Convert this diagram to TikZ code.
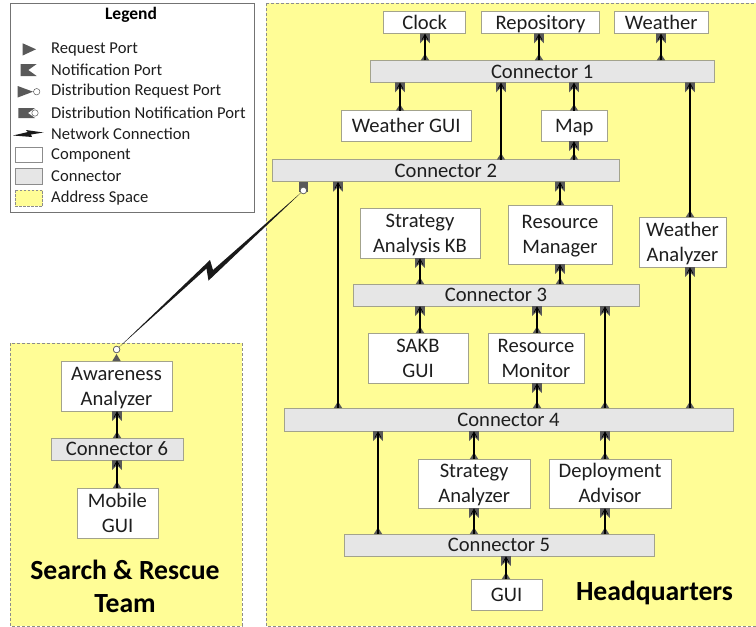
\documentclass[tikz,border=0pt]{standalone}
\usepackage{fontspec}
\setmainfont{Carlito}
\usetikzlibrary{arrows.meta,calc}
\definecolor{spaceyellow}{HTML}{FFFD96}
\definecolor{connfill}{HTML}{E6E6E6}
\definecolor{edgegray}{HTML}{A3A38C}
\definecolor{portgray}{HTML}{595959}
\definecolor{inktext}{HTML}{1E1E1E}
\tikzset{
  basebox/.style={draw=edgegray,line width=0.9pt,inner sep=0pt,outer sep=0pt,align=center,text=inktext,font=\fontsize{20.6}{25}\selectfont},
  compbox/.style={basebox,fill=white},
  connbox/.style={basebox,fill=connfill},
  spacebox/.style={draw=black!45,dashed,dash pattern=on 3pt off 2pt,line width=0.8pt,fill=spaceyellow},
  portfill/.style={fill=portgray,draw=none},
  wire/.style={draw=black,line width=1.8pt},
  barb/.style={draw=black,line width=0.7pt},
  legtext/.style={anchor=west,inner sep=0pt,text=inktext,font=\fontsize{16.6}{19}\selectfont},
  legswatch/.style={draw=black!45,line width=0.8pt},
  bigtitle/.style={font=\bfseries\fontsize{27.7}{33}\selectfont,text=black,align=center,inner sep=0pt},
  ring/.style={circle,draw=portgray,fill=white,line width=0.6pt,minimum size=6.5pt,inner sep=0pt,outer sep=0pt},
  bolt/.style={fill=black!90,draw=none}
}
\newcommand{\bx}[7]{%
  \pgfmathsetmacro{\bxw}{#5-#3}\pgfmathsetmacro{\bxh}{#6-#4}%
  \node[#1,minimum width=\bxw pt,minimum height=\bxh pt] (#2) at ({(#3+#5)/2},{(#4+#6)/2}) {\rule{0pt}{17.5pt}#7\vphantom{Ag}};}
% source node, target node, x position: request port on top of source, notification port under target
\newcommand{\lnk}[3]{%
  \path (#1.north -| #3,0) coordinate (s) (#2.south -| #3,0) coordinate (t);
  \fill[portfill] (s) ++(-4.2,0) -- ++(4.2,-6.5) -- ++(4.2,6.5) -- cycle;
  \fill[portfill] (t) ++(-4.8,0) -- ++(9.6,0) -- ++(0,10) -- ++(-4.8,-5) -- ++(-4.8,5) -- cycle;
  \draw[wire] (s) -- ($(t)+(0,1.5)$);
  \draw[barb] ($(t)+(-3,6.5)$) -- ($(t)+(0,1)$) -- ($(t)+(3,6.5)$);}
\begin{document}
\begin{tikzpicture}[x=1pt,y=-1pt]
\useasboundingbox (0,0) rectangle (756,627);
\fill[white] (0,0) rectangle (756,627);
% address spaces
\draw[spacebox] (266,3) rectangle (757,626);
\draw[spacebox] (10,343) rectangle (242,626);
% legend
\draw[draw=black!55,line width=0.9pt,fill=white] (10,3.5) rectangle (254,212);
\node[font=\bfseries\fontsize{17.5}{20}\selectfont,inner sep=0pt] (legtitle) at (131,15) {Legend};
\fill[portfill] (22.7,43.3) -- (36,49.3) -- (22.7,55.5) -- cycle;
\fill[portfill] (20.7,64) -- (36.7,64) -- (28.3,70) -- (36.7,76) -- (20.7,76) -- cycle;
\fill[portfill] (17.7,86) -- (33,91.7) -- (17.7,97.5) -- cycle;
\draw[portgray,fill=white,line width=0.5pt] (36.7,91.7) circle (3.2);
\fill[portfill] (18.3,108) -- (35,108) -- (28,113) -- (35,118) -- (18.3,118) -- cycle;
\draw[portgray,fill=white,line width=0.5pt] (35,113) circle (3.2);
\fill[bolt] (13,135.5) -- (28,132) -- (26,130) -- (43.5,132.5) -- (31,134.5) -- (32,137) -- cycle;
\draw[legswatch,fill=white] (15,147) rectangle (42.5,162.5);
\draw[legswatch,fill=connfill] (15,168) rectangle (42.5,184);
\draw[legswatch,fill=spaceyellow,dashed,dash pattern=on 2.5pt off 1.5pt] (15,190) rectangle (42.5,206);
\node[legtext] (l1) at (51,49.5) {Request Port};
\node[legtext] (l2) at (51,70) {Notification Port};
\node[legtext] (l3) at (51,91.5) {Distribution Request Port};
\node[legtext] (l4) at (51,113) {Distribution Notification Port};
\node[legtext] (l5) at (51,134) {Network Connection};
\node[legtext] (l6) at (51,155) {Component};
\node[legtext] (l7) at (51,176) {Connector};
\node[legtext] (l8) at (51,198) {Address Space};
% headquarters
\bx{compbox}{clock}{383.5}{11.7}{465.7}{33.3}{Clock}
\bx{compbox}{repo}{481.7}{11.7}{599.3}{33.3}{Repository}
\bx{compbox}{weather}{614.3}{11.7}{708.3}{33.3}{Weather}
\bx{connbox}{c1}{370}{60.3}{714.3}{82.3}{Connector 1}
\bx{compbox}{wgui}{341}{110.7}{471.3}{141}{Weather GUI}
\bx{compbox}{map}{541.7}{110.7}{607}{141}{Map}
\bx{connbox}{c2}{272.7}{159.7}{619}{181.7}{Connector 2}
\bx{compbox}{skb}{360}{208}{480}{258}{Strategy\\Analysis KB}
\bx{compbox}{rman}{508}{205}{612}{264}{Resource\\Manager}
\bx{compbox}{wana}{639}{217}{726}{267}{Weather\\Analyzer}
\bx{connbox}{c3}{353}{284}{639}{306}{Connector 3}
\bx{compbox}{sgui}{368}{333}{468}{383}{SAKB\\GUI}
\bx{compbox}{rmon}{488}{333}{584}{383}{Resource\\Monitor}
\bx{connbox}{c4}{284}{408}{733}{431}{Connector 4}
\bx{compbox}{sana}{418.3}{459}{530}{508}{Strategy\\Analyzer}
\bx{compbox}{dadv}{549}{459}{671}{508}{Deployment\\Advisor}
\bx{connbox}{c5}{344}{534}{654}{556}{Connector 5}
\bx{compbox}{gui}{471}{579}{542}{610}{GUI}
% search and rescue
\bx{compbox}{aware}{61}{361}{172}{411}{Awareness\\Analyzer}
\bx{connbox}{c6}{51}{438}{183}{460}{Connector 6}
\bx{compbox}{mgui}{77}{488}{158}{538}{Mobile\\GUI}
% links
\lnk{c1}{clock}{425}
\lnk{c1}{repo}{539}
\lnk{c1}{weather}{661}
\lnk{wgui}{c1}{400}
\lnk{c2}{c1}{501}
\lnk{map}{c1}{574}
\lnk{c2}{map}{574}
\lnk{wana}{c1}{690}
\lnk{c4}{c2}{338}
\lnk{rman}{c2}{560}
\lnk{c3}{skb}{420}
\lnk{c3}{rman}{560}
\lnk{c4}{c3}{605}
\lnk{c4}{wana}{690}
\lnk{sgui}{c3}{420}
\lnk{rmon}{c3}{537}
\lnk{c4}{rmon}{537}
\lnk{c5}{c4}{378}
\lnk{sana}{c4}{474}
\lnk{dadv}{c4}{605}
\lnk{c5}{sana}{474}
\lnk{c5}{dadv}{605}
\lnk{gui}{c5}{506}
\lnk{c6}{aware}{117}
\lnk{mgui}{c6}{117}
% network connection
\fill[portfill] (299,181.7) -- (308,181.7) -- (308,192) -- (299,192) -- cycle;
\fill[portfill] (112.3,361) -- (116.5,354) -- (120.7,361) -- cycle;
\node[ring] (hqport) at (303.4,190.5) {};
\node[ring] (srport) at (116.6,349.5) {};
\fill[bolt] (srport.center) -- (210,260) -- (213,270) -- (hqport.center) -- (208.5,280.6) -- (206.5,268.5) -- cycle;
\node[ring] at (hqport) {};
\node[ring] at (srport) {};
% titles
\node[bigtitle] (hqtitle) at (654.5,593) {Headquarters};
\node[bigtitle] (srtitle) at (125,586.5) {Search \& Rescue\\Team};
\end{tikzpicture}
\end{document}
